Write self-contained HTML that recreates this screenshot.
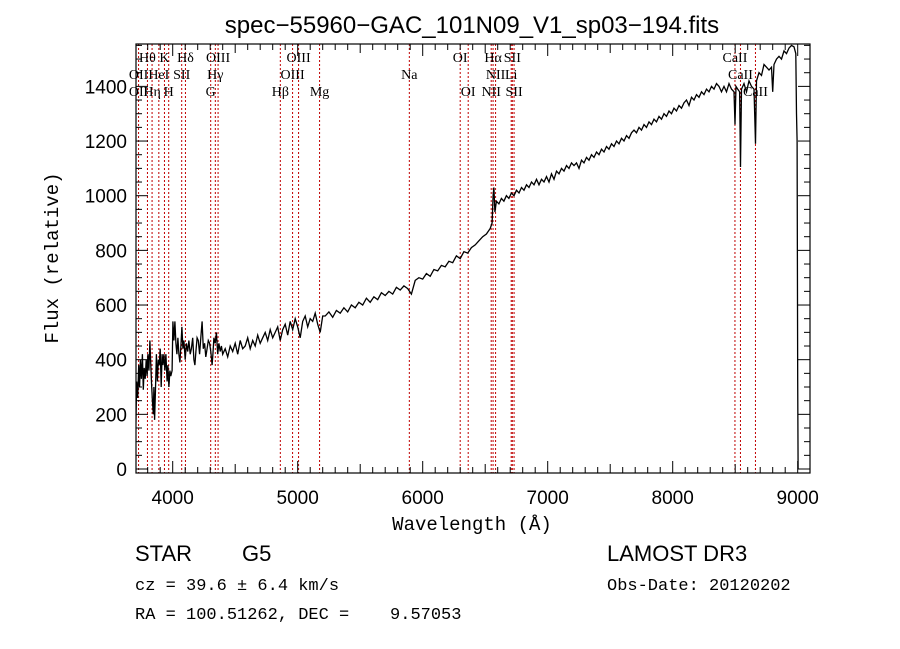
<!DOCTYPE html>
<html><head><meta charset="utf-8"><style>
html,body{margin:0;padding:0;background:#fff;}
svg{display:block;}
</style></head><body>
<svg id="chart" width="900" height="649" viewBox="0 0 900 649" xmlns="http://www.w3.org/2000/svg">
<rect width="900" height="649" fill="#fff"/>
<text x="472" y="33" text-anchor="middle" font-family="Liberation Sans, sans-serif" font-size="24">spec−55960−GAC_101N09_V1_sp03−194.fits</text>
<defs><clipPath id="pc"><rect x="136" y="44" width="674" height="429"/></clipPath></defs>
<g id="lines"></g>
<g id="linelabels"></g>
<g clip-path="url(#pc)"><polyline id="spec" fill="none" stroke="#000" stroke-width="1.3" points=""/></g>
<rect x="136" y="44" width="674" height="429" fill="none" stroke="#000" stroke-width="1.2"/>
<g id="ticks"></g>
<text x="472" y="530" text-anchor="middle" font-family="Liberation Mono, monospace" font-size="19">Wavelength (Å)</text>
<text transform="translate(58,258) rotate(-90)" text-anchor="middle" font-family="Liberation Mono, monospace" font-size="19">Flux (relative)</text>
<text x="135" y="561" font-family="Liberation Sans, sans-serif" font-size="22">STAR</text>
<text x="242" y="561" font-family="Liberation Sans, sans-serif" font-size="22">G5</text>
<text x="607" y="561" font-family="Liberation Sans, sans-serif" font-size="22">LAMOST DR3</text>
<text x="135" y="590" font-family="Liberation Mono, monospace" font-size="17">cz = 39.6 ± 6.4 km/s</text>
<text x="607" y="590" font-family="Liberation Mono, monospace" font-size="17">Obs-Date: 20120202</text>
<text x="135" y="619" font-family="Liberation Mono, monospace" font-size="17" xml:space="preserve">RA = 100.51262, DEC =    9.57053</text>
</svg>
<script>
const waves = [3700,3705,3712,3720,3728,3735,3742,3750,3758,3765,3772,3780,3788,3795,3802,3810,3818,3825,3832,3838,3845,3850,3855,3862,3870,3878,3885,3892,3900,3908,3915,3922,3930,3938,3946,3955,3962,3970,3978,3985,3995,4002,4010,4018,4026,4034,4042,4050,4058,4066,4074,4082,4090,4100,4110,4120,4130,4140,4150,4160,4170,4178,4186,4195,4205,4215,4225,4235,4245,4255,4265,4275,4285,4295,4305,4315,4322,4330,4340,4350,4360,4370,4380,4390,
4400,4420,4440,4460,4480,4500,4520,4540,4560,4580,4600,4620,4640,4660,4680,4700,4720,4740,4760,4780,4800,4820,4840,4860,
4880,4900,4920,4940,4960,4980,5000,5020,5040,5060,5080,5100,5120,5140,5160,5180,5200,
5220,5250,5280,5310,5340,5370,5400,5430,5460,5490,5520,5550,5580,5610,5640,5670,5700,5730,5760,5790,5820,5850,5880,5910,5940,5970,6000,6030,6060,6090,6120,6150,6180,6210,6240,6270,6300,6330,6360,6390,6420,6450,6480,6510,6540,
6555,6563,6570,6578,6590,6610,6630,6650,6670,6690,6710,6730,6750,6770,6790,6810,6830,6850,6870,6890,6910,6930,6950,6970,6990,7010,7030,7050,7070,7090,7110,7130,7150,7170,7190,7210,7230,7250,7270,7290,7310,7330,7350,7370,7390,7410,7430,7450,7470,7490,7510,7530,7550,7570,7590,7610,7630,7650,7670,7690,7710,7730,7750,7770,7790,7810,7830,7850,7870,7890,7910,7930,7950,7970,7990,8010,8030,8050,8070,8090,8110,8130,8150,8170,8190,8210,8230,8250,8270,8290,8310,8330,8350,8370,8390,8410,8430,8450,8470,8490,8498,8506,8520,8535,8542,8550,8570,8590,8610,8630,8650,8662,8670,8690,8710,8730,8750,8770,8790,8800,8810,8830,8850,8870,8890,8910,8930,8950,8970,8985,8990,8995,9000,9003];
const fluxes = [0,150,320,260,380,300,400,330,420,290,370,330,400,340,420,360,470,380,300,250,200,300,180,280,420,320,400,380,440,300,420,380,420,360,420,320,380,300,360,340,360,540,470,540,460,420,480,420,390,450,520,440,470,400,460,430,470,420,440,480,400,380,430,480,470,420,480,540,440,460,410,440,470,460,430,380,420,480,460,500,420,460,430,450,
420,440,410,450,430,460,420,470,440,450,480,440,470,450,490,460,480,500,470,510,480,500,520,470,
510,530,490,540,510,550,520,480,540,560,520,550,540,570,530,500,560,
560,575,555,580,570,590,575,600,590,610,600,625,610,630,620,645,635,650,640,665,655,670,660,640,690,700,695,715,705,730,725,745,740,760,755,780,770,795,790,810,820,835,850,860,880,
900,1000,1030,940,980,970,990,980,1000,990,1010,1000,1020,1010,1030,1020,1040,1030,1050,1040,1060,1040,1060,1050,1070,1050,1080,1060,1090,1080,1100,1090,1110,1100,1120,1110,1120,1100,1130,1120,1140,1130,1150,1140,1160,1150,1170,1160,1180,1170,1190,1180,1200,1190,1210,1200,1220,1210,1230,1240,1230,1250,1240,1260,1250,1270,1260,1280,1270,1290,1280,1300,1290,1310,1300,1320,1310,1330,1320,1340,1350,1330,1360,1350,1370,1360,1380,1370,1390,1380,1400,1390,1410,1400,1380,1400,1380,1410,1390,1380,1260,1400,1390,1380,1105,1390,1410,1380,1420,1400,1390,1190,1420,1450,1440,1480,1470,1460,1470,1380,1480,1500,1510,1500,1530,1520,1540,1550,1545,1520,1300,1200,320,0];
const lineWaves = [3727,3727,3798,3835,3889,3934,3968,4072,4102,4304,4341,4363,4861,4959,5007,5175,5893,6300,6364,6548,6563,6583,6708,6717,6731,8498,8542,8662];
const lineNames = ["OII","OII","Hθ","Hη","HeI","K","H","SII","Hδ","G","Hγ","OIII","Hβ","OIII","OIII","Mg","Na","OI","OI","NII","Hα","NII","Li","SII","SII","CaII","CaII","CaII"];
const lineRows = [2,3,1,3,2,1,3,2,1,3,2,1,3,2,1,3,2,1,3,3,1,2,2,1,3,1,2,3];
const xTicks = [4000,5000,6000,7000,8000,9000];
const yTicks = [0,200,400,600,800,1000,1200,1400];

const X0=136,X1=810,Y0=44,Y1=473;
function xs(w){return 172.7+(w-4000)*0.125;}
function ys(f){return 469-f*0.2733;}
const NS='http://www.w3.org/2000/svg';
function mk(tag,attrs,parent){const e=document.createElementNS(NS,tag);for(const k in attrs)e.setAttribute(k,attrs[k]);parent.appendChild(e);return e;}

const linesG=document.getElementById('lines'), labG=document.getElementById('linelabels');
const drawn={};
lineWaves.forEach((w,i)=>{
  const x=xs(w);
  if(!drawn[w]){
    drawn[w]=1;
    const l=mk('line',{x1:x,x2:x,y1:Y0,y2:Y1,stroke:'#c00000','stroke-width':1,'stroke-dasharray':'2,2'},linesG);
    
    
  }
  const t=mk('text',{x:x,y:62+(lineRows[i]-1)*17,'text-anchor':'middle','font-family':'Liberation Serif, serif','font-size':14},labG);
  t.textContent=lineNames[i];
  
  
});

const pts=waves.map((w,i)=>xs(w).toFixed(1)+','+ys(fluxes[i]).toFixed(1)).join(' ');
document.getElementById('spec').setAttribute('points',pts);

const tg=document.getElementById('ticks');
for(let w=3800;w<=9100;w+=100){
  const x=xs(w); if(x<X0||x>X1)continue;
  const major=(w%1000===0), mid=(w%500===0);
  const len=major?12:(mid?9:6);
  const a=mk('line',{x1:x,x2:x,y1:Y1,y2:Y1-len,stroke:'#000','stroke-width':1},tg);
  
  
  const b=mk('line',{x1:x,x2:x,y1:Y0,y2:Y0+len,stroke:'#000','stroke-width':1},tg);
  
  
}
xTicks.forEach(w=>{
  const t=mk('text',{x:xs(w),y:504,'text-anchor':'middle','font-family':'Liberation Sans, sans-serif','font-size':19},tg);
  t.textContent=w;
  
  
});
for(let f=0;f<=1550;f+=50){
  const y=ys(f); if(y<Y0||y>Y1)continue;
  const major=(f%200===0);
  const len=major?12:6;
  const a=mk('line',{x1:X0,x2:X0+len,y1:y,y2:y,stroke:'#000','stroke-width':1},tg);
  
  
  const b=mk('line',{x1:X1,x2:X1-len,y1:y,y2:y,stroke:'#000','stroke-width':1},tg);
  
  
}
yTicks.forEach(f=>{
  const t=mk('text',{x:127,y:ys(f)+7,'text-anchor':'end','font-family':'Liberation Sans, sans-serif','font-size':19},tg);
  t.textContent=f;
  
  
});
</script>
</body></html>
